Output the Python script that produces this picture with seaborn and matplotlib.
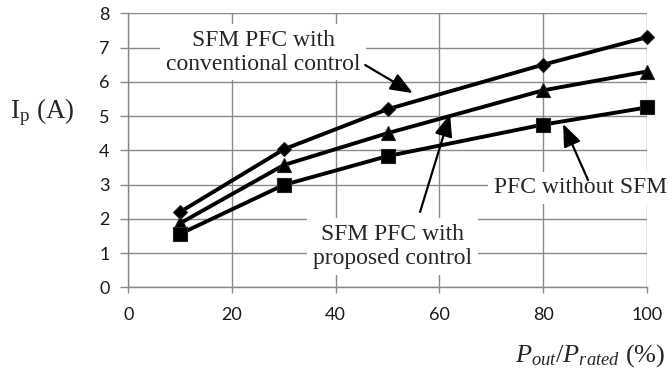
import matplotlib
matplotlib.use("Agg")
import matplotlib.pyplot as plt
import seaborn as sns
import pandas as pd

# ---- data ----
load_pct = [10, 30, 50, 80, 100]
ip_conventional = [2.20, 4.03, 5.20, 6.50, 7.30]   # diamonds
ip_proposed = [1.87, 3.57, 4.50, 5.75, 6.30]       # triangles
ip_no_sfm = [1.56, 2.99, 3.83, 4.75, 5.25]         # squares
x_ticks = [0, 20, 40, 60, 80, 100]
y_ticks = [0, 1, 2, 3, 4, 5, 6, 7, 8]

sns.set_theme(style="white")
plt.rcParams["font.family"] = ["Lato", "DejaVu Sans"]
plt.rcParams["mathtext.fontset"] = "custom"
plt.rcParams["mathtext.rm"] = "Liberation Serif"
plt.rcParams["mathtext.it"] = "Liberation Serif:italic"

SERIF = ["Liberation Serif", "DejaVu Serif"]
GRID = "#8a8a8a"

fig = plt.figure(figsize=(6.69, 3.75), dpi=100)
ax = fig.add_axes([0.1918, 0.2339, 0.9667 - 0.1918, 0.9645 - 0.2339])

df = pd.DataFrame({"x": load_pct, "conv": ip_conventional,
                   "prop": ip_proposed, "nosfm": ip_no_sfm})

common = dict(color="black", linewidth=2.8, markeredgecolor="#222222",
              markeredgewidth=0.8, ax=ax, legend=False, clip_on=False)
sns.lineplot(data=df, x="x", y="conv", marker="D", markersize=7, **common)
sns.lineplot(data=df, x="x", y="prop", marker="^", markersize=10, **common)
sns.lineplot(data=df, x="x", y="nosfm", marker="s", markersize=10, **common)

ax.set_xlim(0, 100)
ax.set_ylim(0, 8)
ax.set_xticks(x_ticks)
ax.set_yticks(y_ticks)
ax.set_xlabel("")
ax.set_ylabel("")
ax.set_axisbelow(True)
ax.grid(True, color=GRID, linewidth=1.0)
for s in ["top", "right"]:
    ax.spines[s].set_visible(False)
for s in ["left", "bottom"]:
    ax.spines[s].set_color(GRID)
    ax.spines[s].set_linewidth(1.0)
ax.tick_params(axis="x", direction="out", length=4.5, width=1.0, color=GRID,
               pad=10, labelsize=13, labelcolor="#1a1a1a", bottom=True)
ax.tick_params(axis="y", direction="out", length=5.5, width=1.0, color=GRID,
               pad=8, labelsize=13, labelcolor="#1a1a1a", left=True)

box = dict(boxstyle="square,pad=0.25", facecolor="white", edgecolor="none")
ax.text(26.0, 6.86, "SFM PFC with\nconventional control", family=SERIF,
        fontsize=17, ha="center", va="center", bbox=box, linespacing=1.15)
ax.text(51.0, 1.19, "SFM PFC with\nproposed control", family=SERIF,
        fontsize=17, ha="center", va="center", bbox=box, linespacing=1.15)
ax.text(87.15, 2.90, "PFC without SFM", family=SERIF, fontsize=17,
        ha="center", va="center", bbox=box, clip_on=False)

arrow = dict(arrowstyle="-|>,head_length=0.8,head_width=0.32", color="black",
             lw=1.6, shrinkA=0, shrinkB=0, mutation_scale=17)
ax.annotate("", xy=(54.87, 5.67), xytext=(45.7, 6.49), arrowprops=arrow)
ax.annotate("", xy=(62.07, 5.06), xytext=(56.28, 2.20), arrowprops=arrow)
ax.annotate("", xy=(83.87, 4.77), xytext=(88.69, 3.13), arrowprops=arrow)

fig.text(42 / 669, 1 - 112 / 375, r"I$_{\rm p}$ (A)", family=SERIF,
         fontsize=19.5, ha="center", va="center")
fig.text(665 / 669, 1 - 356 / 375, r"$P_{out}$/$P_{rated}$ (%)", family=SERIF,
         fontsize=19, ha="right", va="center")

fig.savefig("out.png", dpi=100)
